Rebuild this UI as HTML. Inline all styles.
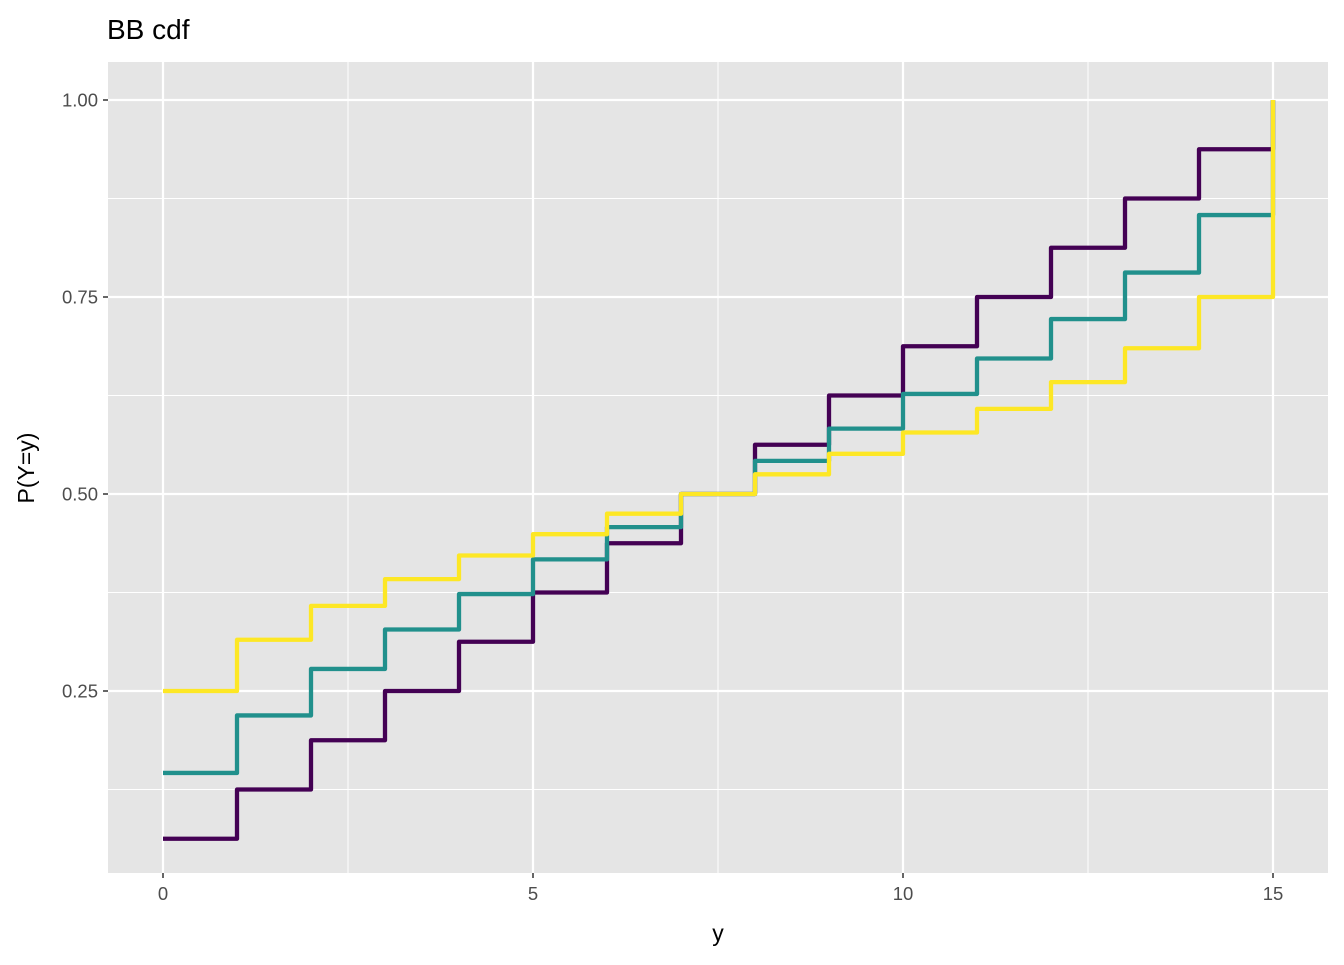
<!DOCTYPE html>
<html><head><meta charset="utf-8"><style>
body{margin:0;background:#fff;}
svg text{font-family:"Liberation Sans",Arial,sans-serif;}
</style></head><body>
<svg id="chart" width="1344" height="960" xmlns="http://www.w3.org/2000/svg">
<rect width="1344" height="960" fill="#fff"/>
<text x="107" y="39" font-size="28" fill="#000">BB cdf</text>
<rect x="108" y="62" width="1220" height="811" fill="#e5e5e5"/>
<g id="grid"></g>
<g id="series"></g>
<g id="axes"></g>
<text x="718" y="941" font-size="23" text-anchor="middle" fill="#000">y</text>
<text transform="translate(34,468) rotate(-90)" font-size="23" text-anchor="middle" fill="#000">P(Y=y)</text>
</svg>
<script>
const xs=[0,1,2,3,4,5,6,7,8,9,10,11,12,13,14,15];
const purple=[0.0625,0.125,0.1875,0.25,0.3125,0.375,0.4375,0.5,0.5625,0.625,0.6875,0.75,0.8125,0.875,0.9375,1.0];
const teal=[0.146,0.219,0.278,0.328,0.373,0.417,0.458,0.5,0.542,0.583,0.627,0.672,0.722,0.781,0.854,1.0];
const yellow=[0.25,0.315,0.358,0.392,0.422,0.449,0.475,0.5,0.525,0.551,0.578,0.608,0.642,0.685,0.75,1.0];
const xTicks=[0,5,10,15];
const xMinor=[2.5,7.5,12.5];
const yTicks=[0.25,0.5,0.75,1.0];
const yTickLabels=["0.25","0.50","0.75","1.00"];
const yMinor=[0.125,0.375,0.625,0.875];
const NS="http://www.w3.org/2000/svg";
const X=v=>163+v*74;
const Y=v=>888-v*788;
function mk(tag,attrs,parent){const e=document.createElementNS(NS,tag);for(const k in attrs)e.setAttribute(k,attrs[k]);parent.appendChild(e);return e;}
const grid=document.getElementById('grid'),axes=document.getElementById('axes'),ser=document.getElementById('series');
xMinor.forEach(v=>{const l=mk('line',{x1:X(v),x2:X(v),y1:62,y2:873,stroke:'#fff','stroke-width':1},grid);

});
yMinor.forEach(v=>{const l=mk('line',{x1:108,x2:1328,y1:Y(v),y2:Y(v),stroke:'#fff','stroke-width':1},grid);

});
xTicks.forEach(v=>{const l=mk('line',{x1:X(v),x2:X(v),y1:62,y2:873,stroke:'#fff','stroke-width':2.2},grid);


const t=mk('line',{x1:X(v),x2:X(v),y1:873,y2:878,stroke:'#333','stroke-width':1.5},axes);


const tx=mk('text',{x:X(v),y:900,'font-size':18.5,'text-anchor':'middle',fill:'#4d4d4d'},axes);tx.textContent=v;

});
yTicks.forEach((v,i)=>{const l=mk('line',{x1:108,x2:1328,y1:Y(v),y2:Y(v),stroke:'#fff','stroke-width':2.2},grid);


const t=mk('line',{x1:103,x2:108,y1:Y(v),y2:Y(v),stroke:'#333','stroke-width':1.5},axes);


const tx=mk('text',{x:98,y:Y(v)+6.5,'font-size':18.5,'text-anchor':'end',fill:'#4d4d4d'},axes);tx.textContent=yTickLabels[i];

});
function step(vals,color,name){let d='M'+X(xs[0])+','+Y(vals[0]);
for(let i=1;i<xs.length;i++){d+=' H'+X(xs[i])+' V'+Y(vals[i]);}
const p=mk('path',{d:d,fill:'none',stroke:color,'stroke-width':4.3,'stroke-linejoin':'round'},ser);

}
step(purple,'#440154','series-purple-step');
step(teal,'#21908c','series-teal-step');
step(yellow,'#fde725','series-yellow-step');
</script>
</body></html>
